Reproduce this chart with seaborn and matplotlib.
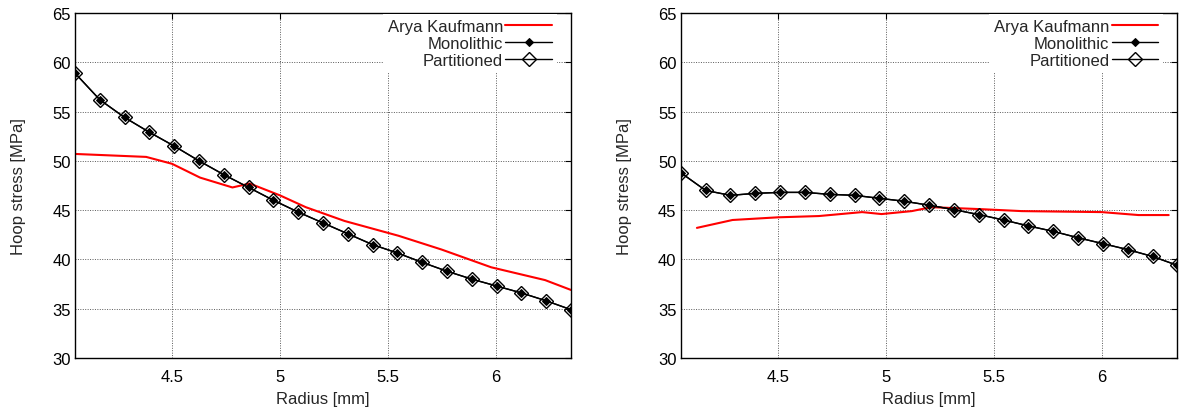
import matplotlib
matplotlib.use("Agg")
import matplotlib.pyplot as plt
import seaborn as sns
import pandas as pd

# ---------------- data ----------------
radius = [4.05, 4.165, 4.28, 4.395, 4.51, 4.625, 4.74, 4.855, 4.97, 5.085, 5.2,
          5.315, 5.43, 5.545, 5.66, 5.775, 5.89, 6.005, 6.12, 6.235, 6.35]

left_mono = [58.9, 56.2, 54.4, 52.9, 51.5, 50.0, 48.6, 47.3, 46.0, 44.8, 43.7,
             42.6, 41.5, 40.65, 39.7, 38.8, 38.0, 37.3, 36.6, 35.8, 34.9]
left_part = [58.9, 56.2, 54.4, 52.9, 51.5, 50.0, 48.6, 47.3, 46.0, 44.8, 43.7,
             42.6, 41.5, 40.65, 39.7, 38.8, 38.0, 37.3, 36.6, 35.8, 34.9]
left_ref_x = [4.05, 4.38, 4.5, 4.63, 4.78, 4.86, 5.0, 5.12, 5.3, 5.55, 5.75, 5.98, 6.23, 6.35]
left_ref_y = [50.7, 50.4, 49.7, 48.3, 47.3, 47.7, 46.5, 45.3, 43.9, 42.4, 41.0, 39.2, 37.9, 36.9]

right_mono = [48.8, 47.0, 46.5, 46.7, 46.8, 46.8, 46.6, 46.5, 46.2, 45.9, 45.5,
              45.05, 44.55, 44.0, 43.4, 42.85, 42.2, 41.6, 41.0, 40.3, 39.4]
right_part = [48.8, 47.0, 46.5, 46.7, 46.8, 46.8, 46.6, 46.5, 46.2, 45.9, 45.5,
              45.05, 44.55, 44.0, 43.4, 42.85, 42.2, 41.6, 41.0, 40.3, 39.4]
right_ref_x = [4.125, 4.29, 4.5, 4.69, 4.89, 4.98, 5.12, 5.21, 5.44, 5.63, 6.0, 6.17, 6.31]
right_ref_y = [43.2, 44.0, 44.27, 44.4, 44.8, 44.6, 44.9, 45.3, 45.1, 44.9, 44.8, 44.5, 44.5]

x_ticks = [4.5, 5, 5.5, 6]
x_tick_labels = ["4.5", "5", "5.5", "6"]
y_ticks = [30, 35, 40, 45, 50, 55, 60, 65]

labels = ["Arya Kaufmann", "Monolithic", "Partitioned"]
x_label = "Radius [mm]"
y_label = "Hoop stress [MPa]"

# ---------------- style ----------------
sns.set_style("white")
plt.rcParams["font.family"] = ["Liberation Sans", "DejaVu Sans"]
FS = 12

fig = plt.figure(figsize=(11.81, 4.14), dpi=100)
ax_l = fig.add_axes([0.0635, 0.1329, 0.4200, 0.8333])
ax_r = fig.add_axes([0.5764, 0.1329, 0.4205, 0.8333])


def draw(ax, ref_x, ref_y, mono, part):
    ref_df = pd.DataFrame({"r": ref_x, "s": ref_y})
    part_df = pd.DataFrame({"r": radius, "s": part})
    mono_df = pd.DataFrame({"r": radius, "s": mono})
    sns.lineplot(data=ref_df, x="r", y="s", ax=ax, color="#ff0000", lw=1.5,
                 label=labels[0], zorder=3)
    sns.lineplot(data=part_df, x="r", y="s", ax=ax, color="black", lw=1.0,
                 marker="D", markersize=7.6, markerfacecolor="none",
                 markeredgecolor="black", markeredgewidth=1.0,
                 label=labels[2], zorder=4)
    sns.lineplot(data=mono_df, x="r", y="s", ax=ax, color="black", lw=1.0,
                 marker="D", markersize=3.6, markerfacecolor="black",
                 markeredgecolor="black", label=labels[1], zorder=5)

    ax.set_xlim(4.05, 6.35)
    ax.set_ylim(30, 65)
    ax.set_xticks(x_ticks)
    ax.set_xticklabels(x_tick_labels)
    ax.set_yticks(y_ticks)
    ax.tick_params(direction="in", length=4, width=0.8, top=True, right=True,
                   labelsize=FS, colors="black", pad=3)
    ax.tick_params(axis="x", pad=8)
    for sp in ax.spines.values():
        sp.set_color("black")
        sp.set_linewidth(1.0)
        sp.set_zorder(6)
    ax.grid(True, linestyle=(0, (1, 1.5)), color="0.35", lw=0.7)
    ax.set_axisbelow(True)
    ax.set_xlabel(x_label, fontsize=FS)
    ax.set_ylabel(y_label, fontsize=FS)
    ax.xaxis.set_label_coords(0.5, -0.097)
    ax.yaxis.set_label_coords(-0.098, 0.5)

    h, l = ax.get_legend_handles_labels()
    d = dict(zip(l, h))
    leg = ax.legend([d[k] for k in labels], labels, loc="upper right",
                    bbox_to_anchor=(0.972, 0.998), markerfirst=False,
                    frameon=True, fancybox=False, facecolor="white",
                    edgecolor="none", framealpha=1.0, fontsize=FS,
                    handlelength=2.8, handletextpad=0.15, labelspacing=0.12,
                    borderpad=0.3, borderaxespad=0.0)
    leg.set_zorder(7)


draw(ax_l, left_ref_x, left_ref_y, left_mono, left_part)
draw(ax_r, right_ref_x, right_ref_y, right_mono, right_part)

fig.savefig("out.png", dpi=100)
